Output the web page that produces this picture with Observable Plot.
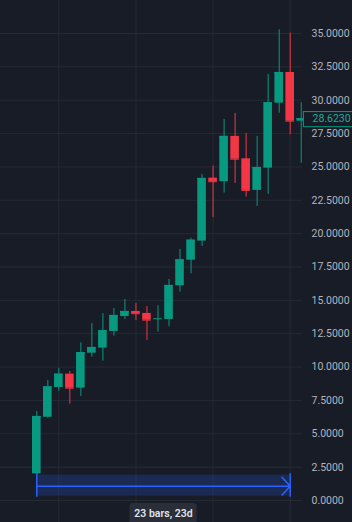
<!DOCTYPE html>
<html>
<head>
<meta charset="utf-8">
<script src="https://cdn.jsdelivr.net/npm/d3@7"></script>
<script src="https://cdn.jsdelivr.net/npm/@observablehq/plot@0.6"></script>
<style>
  html, body { margin: 0; padding: 0; background: #181c27; }
  #chart svg { display: block; }
</style>
</head>
<body>
<div id="chart"></div>
<script>
// ---- data ----
const bars   = [1, 2, 3, 4, 5, 6, 7, 8, 9, 10, 11, 12, 13, 14, 15, 16, 17, 18, 19, 20, 21, 22, 23, 24, 25];
const opens  = [2.00, 6.24, 8.47, 9.47, 8.42, 11.04, 11.42, 12.67, 13.79, 14.17, 14.02, 13.62, 13.57, 16.09, 18.01, 19.44, 24.16, 23.89, 27.29, 25.61, 23.24, 24.91, 29.78, 32.08, 28.43];
const highs  = [6.67, 9.00, 9.90, 9.67, 11.82, 13.27, 14.00, 14.39, 15.07, 14.77, 14.54, 14.60, 16.57, 18.82, 19.66, 24.42, 25.06, 28.56, 29.01, 27.51, 27.29, 31.93, 35.28, 35.03, 29.81];
const lows   = [1.95, 6.17, 8.19, 7.22, 7.80, 10.74, 10.44, 12.32, 13.57, 13.49, 11.99, 12.62, 13.02, 15.61, 16.99, 19.04, 21.19, 23.04, 23.76, 22.74, 22.04, 22.94, 29.03, 27.41, 25.28];
const closes = [6.30, 8.52, 9.47, 8.42, 11.09, 11.47, 12.72, 13.87, 14.17, 14.00, 13.52, 13.62, 16.12, 18.04, 19.51, 24.14, 23.89, 27.29, 25.58, 23.24, 24.96, 29.81, 32.08, 28.43, 28.623];

const yTicks = [0, 2.5, 5, 7.5, 10, 12.5, 15, 17.5, 20, 22.5, 25, 27.5, 30, 32.5, 35];
const weekGridBars = [3, 10, 17, 24];

const lastPrice = 28.623;
const measureFrom = 1, measureTo = 24;
const measureTop = 1.9, measureBottom = 0.32, measureMid = 1.07;
const measureLineTop = 2.0, measureLineBottom = 0.25;
const measureLabel = "23 bars, 23d";

const UP = "#089981", DOWN = "#f23645";
const candles = bars.map((b, k) => ({
  i: b, open: opens[k], high: highs[k], low: lows[k], close: closes[k],
  color: closes[k] >= opens[k] ? UP : DOWN
}));
const half = 0.39;

const chart = Plot.plot({
  width: 352,
  height: 522,
  marginTop: 0,
  marginBottom: 0,
  marginLeft: 0,
  marginRight: 50,
  style: { background: "#181c27", color: "#b2b5be", fontFamily: "Roboto, sans-serif", fontSize: "10.5px" },
  x: { type: "linear", domain: [1, 24], range: [36.3, 289.7], axis: null },
  y: { domain: [0, 35], range: [500, 33], axis: null },
  color: { type: "identity" },
  marks: [
    Plot.gridY(yTicks, { stroke: "#262a35", strokeOpacity: 1 }),
    Plot.ruleX(weekGridBars, { stroke: "#262a35", strokeOpacity: 1 }),
    Plot.axisY(yTicks, {
      anchor: "right", tickSize: 0, tickPadding: 9, textAnchor: "start",
      tickFormat: d => d.toFixed(4), fill: "#b2b5be", fontSize: 10.5
    }),
    // measure tool
    Plot.rect([0], { x1: measureFrom, x2: measureTo, y1: measureBottom, y2: measureTop, fill: "#2962ff", fillOpacity: 0.2 }),
    Plot.ruleX([measureFrom, measureTo], { y1: measureLineBottom, y2: measureLineTop, stroke: "#2962ff", strokeWidth: 1.5 }),
    Plot.arrow([0], { x1: measureFrom, x2: measureTo, y1: measureMid, y2: measureMid, stroke: "#2962ff", strokeWidth: 1.5, headAngle: 95, headLength: 12 }),
    // candles
    Plot.ruleX(candles, { x: "i", y1: "low", y2: "high", stroke: "color", strokeWidth: 1 }),
    Plot.rect(candles, {
      x1: d => d.i - half, x2: d => d.i + half,
      y1: d => Math.min(d.open, d.close), y2: d => Math.max(d.open, d.close),
      fill: "color"
    }),
    Plot.ruleY(candles, { y: "close", x1: d => d.i - half, x2: d => d.i + half, stroke: "color" }),
    // last price label
    Plot.rect([0], { x1: 25.24, x2: 31, y1: 27.98, y2: 29.11, fill: "#181c27", stroke: UP, strokeWidth: 1 }),
    Plot.text([lastPrice], { y: d => d, frameAnchor: "right", dx: 10, textAnchor: "start", text: d => d.toFixed(4), fill: "#22ab94", fontSize: 10.5 }),
    // measure label
    Plot.rect([0], { x1: 12.5 - 3.05, x2: 12.5 + 3.05, y1: -2, y2: -0.22, fill: "#2a2e39", rx: 3 }),
    Plot.text([measureLabel], { x: 12.5, y: -0.97, text: d => d, fill: "#e0e3eb", fontSize: 10.5, fontWeight: 600 })
  ]
});
document.getElementById("chart").append(chart);
</script>
</body>
</html>
